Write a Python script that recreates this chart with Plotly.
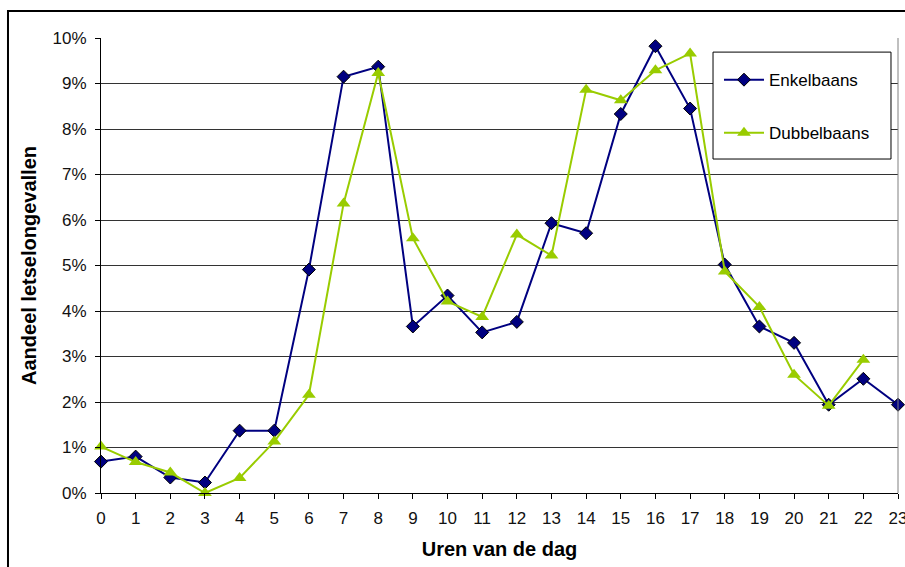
import plotly.graph_objects as go

hours = list(range(24))
enkelbaans = [0.69, 0.80, 0.34, 0.23, 1.37, 1.37, 4.91, 9.15, 9.37, 3.66, 4.34, 3.53,
              3.76, 5.93, 5.71, 8.33, 9.82, 8.45, 5.02, 3.66, 3.30, 1.94, 2.51, 1.94]
dubbelbaans = [1.02, 0.68, 0.45, 0.0, 0.33, 1.13, 2.16, 6.36, 9.23, 5.60, 4.21, 3.87,
               5.68, 5.22, 8.86, 8.63, 9.29, 9.66, 4.87, 4.09, 2.60, 1.92, 2.93]
y_ticks = list(range(0, 11))
y_labels = [f"{v}%" for v in y_ticks]

fig = go.Figure()
fig.add_trace(go.Scatter(
    x=hours, y=enkelbaans, name="Enkelbaans", mode="lines+markers",
    line=dict(color="#000080", width=2),
    marker=dict(symbol="diamond", size=10, color="#000080", line=dict(color="black", width=1)),
    legendgroup="a", cliponaxis=False))
fig.add_trace(go.Scatter(
    x=hours[:len(dubbelbaans)], y=dubbelbaans, name="Dubbelbaans", mode="lines+markers",
    line=dict(color="#99CC00", width=2),
    marker=dict(symbol="triangle-up", size=12, color="#99CC00"),
    legendgroup="b", cliponaxis=False))

fig.update_layout(
    width=905, height=567,
    margin=dict(l=101, r=7, t=38, b=74, autoexpand=False),
    paper_bgcolor="white", plot_bgcolor="white",
    font=dict(family="Liberation Sans, Arial, sans-serif", size=17, color="black"),
    showlegend=True,
    legend=dict(x=0.7754, y=0.947, xanchor="left", yanchor="top",
                borderwidth=0, bgcolor="rgba(0,0,0,0)",
                tracegroupgap=28, font=dict(size=17),
                itemwidth=40),
    xaxis=dict(range=[0, 23], tickvals=hours, showgrid=False, zeroline=False,
               automargin=False,
               showline=True, linecolor="black", linewidth=1,
               ticks="outside", ticklen=5, tickcolor="black",
               ticklabelstandoff=5, ticklabeloverflow="allow",
               tickfont=dict(size=17, color="#111111"),
               title=dict(text="<b>Uren van de dag</b>", font=dict(size=20), standoff=14)),
    yaxis=dict(range=[0, 10], tickvals=y_ticks, ticktext=y_labels,
               automargin=False,
               showgrid=True, gridcolor="#333333", gridwidth=1, zeroline=False,
               showline=True, linecolor="black", linewidth=1,
               ticks="outside", ticklen=5, tickcolor="black",
               ticklabelstandoff=5,
               tickfont=dict(size=17, color="#111111"),
               title=dict(text="<b>Aandeel letselongevallen</b>", font=dict(size=20), standoff=10)),
)
# plot area right border
fig.add_shape(type="line", xref="paper", yref="paper", x0=1, x1=1, y0=0, y1=1,
              line=dict(color="#808080", width=1))
# legend box
fig.add_shape(type="rect", xref="paper", yref="paper",
              x0=0.7679, x1=0.9912, y0=0.734, y1=0.969,
              line=dict(color="black", width=1), fillcolor="white", layer="above")
# outer chart border
fig.add_shape(type="rect", xref="paper", yref="paper",
              x0=-0.1167, x1=1.03, y0=-0.2, y1=1.0593,
              line=dict(color="black", width=2), layer="below")

fig.write_html("out.html", config={"displayModeBar": False},
               post_script="document.body.style.margin='0';document.body.style.overflow='hidden';")
